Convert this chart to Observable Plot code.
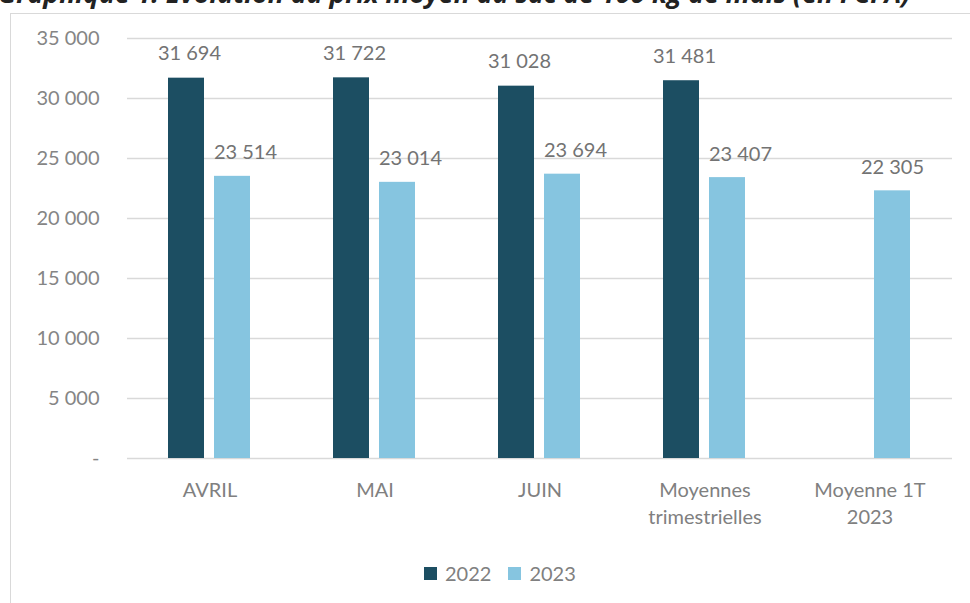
<!DOCTYPE html>
<html>
<head>
<meta charset="utf-8">
<script src="https://cdn.jsdelivr.net/npm/d3@7"></script>
<script src="https://cdn.jsdelivr.net/npm/@observablehq/plot@0.6"></script>
<style>
  html, body { margin: 0; padding: 0; background: #fff; overflow: hidden; }
  body { width: 970px; height: 603px; position: relative; font-family: Lato, "Open Sans", sans-serif; }
  #title { position: absolute; left: -2px; top: -20px; white-space: nowrap; font-size: 26.6px; font-weight: bold; font-style: italic; color: #222; line-height: 1; font-family: "Open Sans", Lato, sans-serif; }
  #frame { position: absolute; left: 10px; top: 13px; width: 1000px; height: 700px; border: 1px solid #d9d9d9; box-sizing: border-box; }
  #chart { position: absolute; left: 0; top: 0; }
  #legend { position: absolute; top: 561px; left: 424px; display: flex; align-items: center; font-size: 20px; color: #808080; }
  #legend .sw { width: 13px; height: 13px; display: inline-block; margin-right: 8px; }
  #legend .item { display: flex; align-items: center; margin-right: 17px; }
</style>
</head>
<body>
<div id="title">Graphique 1: Evolution du prix moyen du sac de 100 kg de maïs (en FCFA)</div>
<div id="frame"></div>
<div id="chart"></div>
<div id="legend"></div>
<script>
const categories = ["AVRIL", "MAI", "JUIN", "Moyennes\ntrimestrielles", "Moyenne 1T\n2023"];
const years = ["2022", "2023"];
const values2022 = [31694, 31722, 31028, 31481, null];
const values2023 = [23514, 23014, 23694, 23407, 22305];
const yTicks = [0, 5000, 10000, 15000, 20000, 25000, 30000, 35000];
const colors = ["#1c4e62", "#86c5e0"];

const data = [];
categories.forEach((c, i) => {
  if (values2022[i] != null) data.push({cat: c, year: "2022", value: values2022[i], paired: true});
  if (values2023[i] != null) data.push({cat: c, year: "2023", value: values2023[i], paired: values2022[i] != null});
});

const fmt = v => v === 0 ? "-" : d3.format(",")(v).replace(/,/g, " ");

const chart = Plot.plot({
  width: 970,
  height: 540,
  marginLeft: 127,
  marginRight: 18,
  marginTop: 38,
  marginBottom: 82,
  style: {fontFamily: "Lato, 'Open Sans', sans-serif", background: "transparent"},
  fx: {domain: categories, padding: 0, label: null, axis: null},
  x: {domain: years, paddingInner: 0.213, paddingOuter: 0.862, axis: null},
  y: {domain: [0, 35000], axis: null},
  color: {domain: years, range: colors},
  marks: [
    Plot.gridY(yTicks, {stroke: "#d9d9d9", strokeOpacity: 1, strokeWidth: 1.5}),
    Plot.axisY(yTicks, {tickSize: 0, tickPadding: 28, tickFormat: fmt, fontSize: 20, fill: "#858585", label: null}),
    Plot.axisFx({anchor: "bottom", tickSize: 0, tickPadding: 19, fontSize: 20, fill: "#808080", label: null, lineHeight: 1.35}),
    Plot.barY(data, {fx: "cat", x: "year", y: "value", fill: "year"}),
    Plot.text(data.filter(d => d.year === "2022"), {fx: "cat", x: "year", y: "value", text: d => fmt(d.value), dx: 3, dy: -18, lineAnchor: "bottom", fontSize: 20, fill: "#737373"}),
    Plot.text(data.filter(d => d.year === "2023" && d.paired), {fx: "cat", x: "year", y: "value", text: d => fmt(d.value), dx: 13, dy: -17, lineAnchor: "bottom", fontSize: 20, fill: "#737373"}),
    Plot.text(data.filter(d => d.year === "2023" && !d.paired), {fx: "cat", x: "year", y: "value", text: d => fmt(d.value), dy: -17, lineAnchor: "bottom", fontSize: 20, fill: "#737373"})
  ]
});
document.getElementById("chart").appendChild(chart);

const legend = document.getElementById("legend");
years.forEach((y, i) => {
  const item = document.createElement("div");
  item.className = "item";
  item.innerHTML = `<span class="sw" style="background:${colors[i]}"></span><span>${y}</span>`;
  legend.appendChild(item);
});
</script>
</body>
</html>
